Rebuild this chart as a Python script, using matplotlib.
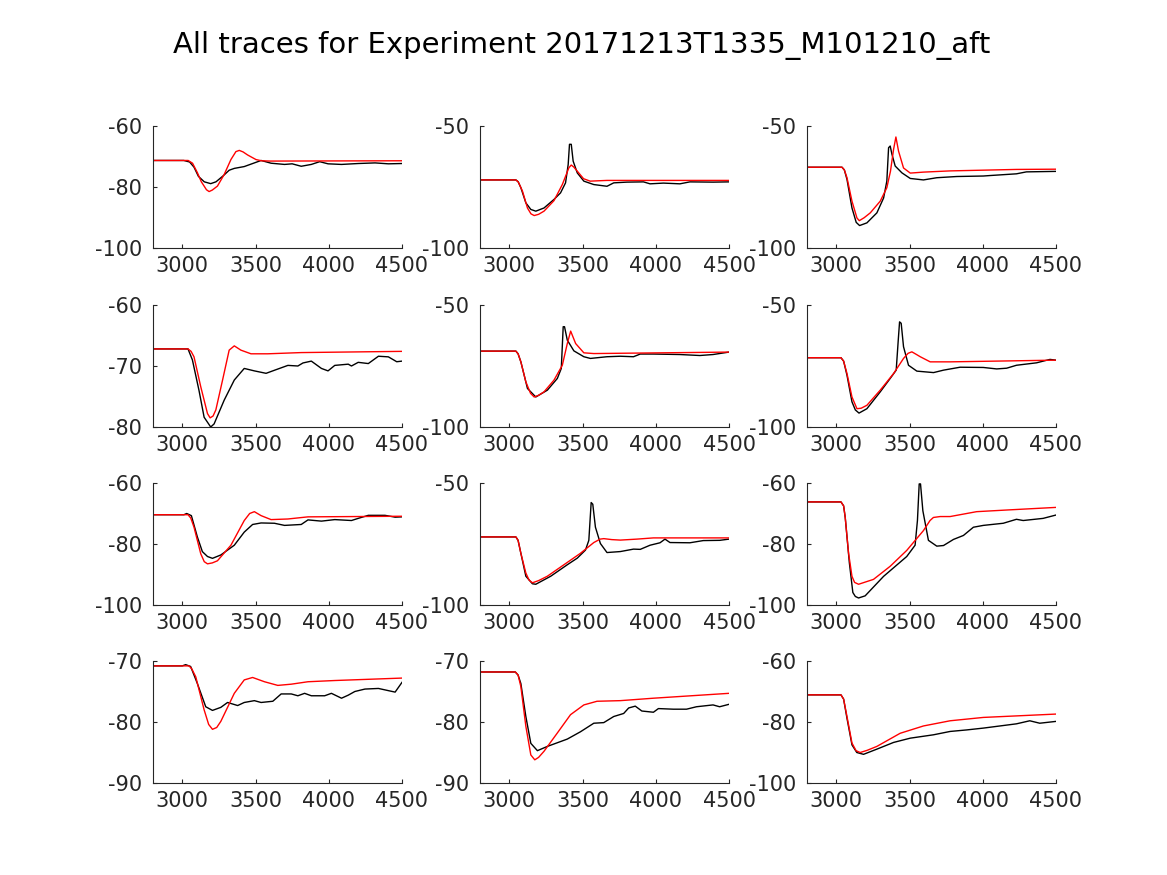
import matplotlib
matplotlib.use("Agg")
import matplotlib.pyplot as plt

title = "All traces for Experiment 20171213T1335_M101210_aft"
x_ticks = [3000, 3500, 4000, 4500]
x_limits = (2800, 4500)

# y-axis ticks per panel (row-major)
y_ticks = [
    [-100, -80, -60], [-100, -50], [-100, -50],
    [-80, -70, -60], [-100, -50], [-100, -50],
    [-100, -80, -60], [-100, -50], [-100, -80, -60],
    [-90, -80, -70], [-90, -80, -70], [-100, -80, -60],
]

# ---- panel 1 ----
exp1_x = [2800, 3010, 3050, 3080, 3110, 3150, 3194, 3230, 3280, 3320, 3355, 3423, 3492, 3538, 3606, 3698, 3750, 3812, 3881, 3938, 3995, 4087, 4201, 4316, 4407, 4500]
exp1_y = [-71.3, -71.3, -71.8, -73.5, -76.5, -78.3, -78.9, -78.3, -76.3, -74.5, -73.9, -73.3, -72.1, -71.3, -72.2, -72.6, -72.4, -73.2, -72.6, -71.7, -72.4, -72.6, -72.3, -72.1, -72.4, -72.3]
mod1_x = [2800, 3040, 3070, 3103, 3130, 3149, 3165, 3183, 3205, 3240, 3286, 3332, 3366, 3389, 3415, 3446, 3503, 3540, 3600, 4500]
mod1_y = [-71.3, -71.3, -72.2, -75.3, -78.3, -79.7, -80.9, -81.5, -81.0, -79.7, -75.9, -71.0, -68.4, -68.0, -68.5, -69.5, -71.0, -71.4, -71.5, -71.4]

# ---- panel 2 ----
exp2_x = [2800, 3045, 3060, 3079, 3113, 3147, 3181, 3237, 3305, 3350, 3384, 3402, 3411, 3423, 3436, 3464, 3509, 3577, 3667, 3713, 3803, 3916, 3961, 4052, 4165, 4233, 4391, 4500]
exp2_y = [-72.1, -72.1, -72.8, -75.3, -81.5, -84.2, -84.9, -83.6, -80.1, -77.4, -73.3, -65.8, -57.5, -57.5, -64.4, -69.2, -72.6, -74.0, -74.7, -73.3, -73.0, -72.9, -73.7, -73.4, -73.7, -72.9, -73.0, -72.9]
mod2_x = [2800, 3045, 3062, 3090, 3124, 3148, 3170, 3200, 3237, 3305, 3362, 3407, 3423, 3440, 3464, 3507, 3552, 3667, 4500]
mod2_y = [-72.1, -72.1, -73.0, -76.7, -83.6, -86.0, -86.7, -86.2, -84.9, -80.6, -74.0, -67.1, -66.0, -66.8, -68.5, -71.6, -72.6, -72.3, -72.3]

# ---- panel 3 ----
exp3_x = [2800, 3039, 3055, 3073, 3107, 3136, 3159, 3209, 3277, 3323, 3345, 3357, 3368, 3380, 3402, 3448, 3505, 3595, 3686, 3823, 4004, 4050, 4230, 4298, 4500]
exp3_y = [-66.9, -66.9, -68.0, -71.9, -83.6, -89.5, -90.8, -89.7, -85.6, -79.5, -72.6, -58.9, -58.2, -61.6, -66.4, -69.2, -71.5, -72.1, -71.2, -70.7, -70.5, -70.3, -69.6, -68.8, -68.6]
mod3_x = [2800, 3039, 3055, 3073, 3107, 3141, 3157, 3190, 3232, 3300, 3345, 3370, 3391, 3407, 3425, 3459, 3505, 3595, 3777, 4004, 4230, 4500]
mod3_y = [-66.9, -66.9, -68.0, -71.2, -80.8, -87.7, -88.8, -87.6, -85.6, -80.8, -75.3, -68.5, -59.6, -54.5, -60.3, -67.2, -69.3, -68.9, -68.4, -68.1, -67.8, -67.7]

# ---- panel 4 ----
exp4_x = [2800, 3039, 3069, 3114, 3149, 3194, 3217, 3286, 3355, 3423, 3492, 3572, 3629, 3721, 3789, 3824, 3881, 3950, 3995, 4041, 4133, 4155, 4201, 4270, 4339, 4407, 4464, 4500]
exp4_y = [-67.2, -67.2, -69.0, -74.0, -78.4, -80.0, -79.5, -75.6, -72.3, -70.4, -70.8, -71.2, -70.7, -69.9, -70.0, -69.5, -69.2, -70.4, -70.8, -69.9, -69.7, -70.0, -69.4, -69.6, -68.4, -68.5, -69.3, -69.2]
mod4_x = [2800, 3039, 3060, 3080, 3126, 3172, 3190, 3210, 3229, 3275, 3320, 3355, 3400, 3469, 3583, 3812, 4500]
mod4_y = [-67.2, -67.2, -67.6, -68.5, -73.4, -77.8, -78.5, -78.2, -77.2, -72.3, -67.4, -66.7, -67.4, -68.0, -68.0, -67.8, -67.6]

# ---- panel 5 ----
exp5_x = [2800, 3045, 3060, 3079, 3124, 3181, 3260, 3328, 3355, 3368, 3377, 3396, 3441, 3509, 3554, 3667, 3758, 3848, 3894, 3984, 4165, 4301, 4391, 4500]
exp5_y = [-68.9, -68.9, -70.0, -73.3, -84.2, -87.7, -84.9, -80.1, -76.0, -58.9, -58.9, -64.4, -68.8, -71.2, -71.9, -71.2, -71.0, -71.2, -70.1, -70.1, -70.3, -70.7, -70.3, -69.3]
mod5_x = [2800, 3045, 3060, 3079, 3113, 3145, 3170, 3200, 3237, 3305, 3362, 3396, 3419, 3453, 3509, 3577, 4500]
mod5_y = [-68.9, -68.9, -70.0, -73.3, -81.5, -86.2, -87.7, -87.0, -85.6, -80.8, -74.7, -65.8, -60.7, -65.8, -69.6, -69.9, -69.3]

# ---- panel 6 ----
exp6_x = [2800, 3032, 3050, 3073, 3107, 3130, 3155, 3209, 3300, 3368, 3409, 3423, 3432, 3443, 3459, 3493, 3550, 3664, 3732, 3845, 4004, 4095, 4163, 4230, 4367, 4459, 4500]
exp6_y = [-71.6, -71.6, -73.0, -78.8, -89.7, -93.0, -94.3, -92.5, -85.6, -80.1, -76.7, -64.4, -56.9, -57.5, -67.1, -74.7, -77.1, -77.7, -76.7, -75.5, -75.6, -76.2, -75.9, -74.7, -73.7, -72.3, -72.6]
mod6_x = [2800, 3032, 3050, 3073, 3107, 3141, 3170, 3209, 3300, 3391, 3459, 3490, 3516, 3545, 3573, 3641, 3777, 4500]
mod6_y = [-71.6, -71.6, -73.0, -78.1, -87.7, -92.5, -92.3, -91.1, -84.9, -78.1, -71.9, -69.8, -69.2, -70.2, -71.2, -73.3, -73.3, -72.6]

# ---- panel 7 ----
exp7_x = [2800, 3011, 3030, 3062, 3103, 3137, 3172, 3206, 3263, 3355, 3423, 3480, 3538, 3629, 3698, 3812, 3858, 3950, 4041, 4155, 4201, 4270, 4384, 4453, 4500]
exp7_y = [-70.4, -70.4, -70.0, -70.7, -77.7, -82.5, -84.1, -84.7, -83.6, -80.4, -76.1, -73.6, -73.1, -73.2, -73.9, -73.6, -72.1, -72.5, -72.0, -72.3, -71.6, -70.6, -70.6, -71.2, -71.1]
mod7_x = [2800, 3039, 3058, 3080, 3126, 3150, 3172, 3205, 3240, 3332, 3423, 3460, 3492, 3538, 3606, 3721, 3858, 4500]
mod7_y = [-70.4, -70.4, -71.5, -74.5, -83.2, -85.8, -86.5, -86.2, -85.5, -80.4, -72.3, -70.0, -69.4, -70.7, -72.0, -71.8, -71.1, -70.9]

# ---- panel 8 ----
exp8_x = [2800, 3045, 3060, 3079, 3113, 3158, 3181, 3283, 3396, 3464, 3520, 3543, 3559, 3570, 3588, 3622, 3667, 3758, 3848, 3894, 3961, 4029, 4063, 4097, 4233, 4324, 4437, 4500]
exp8_y = [-72.1, -72.1, -73.5, -78.8, -88.2, -91.3, -91.5, -88.2, -83.5, -80.8, -77.5, -73.5, -58.0, -58.7, -68.1, -74.8, -78.5, -78.1, -77.1, -77.2, -75.5, -74.5, -73.0, -74.4, -74.5, -73.6, -73.5, -73.0]
mod8_x = [2800, 3045, 3060, 3079, 3113, 3135, 3158, 3200, 3260, 3373, 3486, 3577, 3620, 3645, 3700, 3758, 3871, 3984, 4500]
mod8_y = [-72.1, -72.1, -73.5, -78.8, -86.9, -89.8, -90.9, -90.0, -88.2, -83.5, -78.8, -74.4, -73.0, -72.8, -73.2, -73.4, -73.0, -72.5, -72.5]

# ---- panel 9 ----
exp9_x = [2800, 3032, 3050, 3061, 3089, 3113, 3130, 3152, 3197, 3323, 3481, 3538, 3554, 3566, 3575, 3591, 3629, 3686, 3732, 3800, 3868, 3936, 4004, 4140, 4230, 4276, 4412, 4500]
exp9_y = [-66.2, -66.2, -67.5, -71.3, -86.1, -95.9, -97.2, -97.7, -97.0, -90.6, -84.1, -80.4, -72.3, -60.3, -60.3, -69.1, -78.8, -80.7, -80.5, -78.5, -77.2, -74.5, -73.9, -73.2, -71.9, -72.3, -71.6, -70.5]
mod9_x = [2800, 3032, 3050, 3061, 3084, 3107, 3125, 3152, 3254, 3368, 3481, 3595, 3640, 3663, 3709, 3777, 3958, 4185, 4500]
mod9_y = [-66.2, -66.2, -67.5, -71.3, -83.1, -90.6, -92.6, -93.2, -91.6, -87.3, -82.1, -75.6, -72.3, -71.3, -71.0, -71.0, -69.4, -68.8, -68.0]

# ---- panel 10 ----
exp10_x = [2800, 3000, 3023, 3057, 3103, 3160, 3206, 3263, 3309, 3378, 3423, 3492, 3538, 3618, 3675, 3744, 3789, 3835, 3881, 3972, 4018, 4087, 4133, 4178, 4247, 4339, 4453, 4500]
exp10_y = [-70.8, -70.8, -70.6, -70.9, -73.7, -77.5, -78.1, -77.6, -76.8, -77.3, -76.8, -76.5, -76.8, -76.6, -75.4, -75.4, -75.7, -75.3, -75.7, -75.7, -75.3, -76.1, -75.6, -75.0, -74.6, -74.5, -75.1, -73.5]
mod10_x = [2800, 3046, 3065, 3092, 3149, 3180, 3206, 3235, 3263, 3355, 3423, 3480, 3561, 3652, 3744, 3858, 4041, 4500]
mod10_y = [-70.8, -70.8, -71.3, -72.6, -78.0, -80.4, -81.2, -80.9, -79.9, -75.3, -73.1, -72.7, -73.4, -74.0, -73.8, -73.4, -73.2, -72.8]

# ---- panel 11 ----
exp11_x = [2800, 3041, 3060, 3079, 3113, 3147, 3192, 3260, 3328, 3396, 3486, 3577, 3645, 3713, 3781, 3815, 3860, 3905, 3984, 4018, 4120, 4210, 4278, 4391, 4436, 4500]
exp11_y = [-71.8, -71.8, -72.3, -73.7, -79.1, -83.5, -84.7, -84.0, -83.4, -82.8, -81.6, -80.2, -80.1, -79.1, -78.6, -77.7, -77.4, -78.2, -78.4, -77.8, -77.9, -77.9, -77.5, -77.2, -77.5, -77.1]
mod11_x = [2800, 3041, 3060, 3079, 3113, 3147, 3174, 3200, 3237, 3328, 3418, 3509, 3599, 3758, 3984, 4500]
mod11_y = [-71.8, -71.8, -72.3, -74.2, -80.7, -85.4, -86.2, -85.8, -84.8, -81.8, -78.8, -77.2, -76.6, -76.5, -76.1, -75.3]

# ---- panel 12 ----
exp12_x = [2800, 3032, 3050, 3073, 3107, 3140, 3186, 3277, 3391, 3505, 3663, 3777, 3890, 4004, 4117, 4230, 4321, 4389, 4500]
exp12_y = [-71.1, -71.1, -72.5, -78.8, -87.5, -90.0, -90.6, -88.9, -86.7, -85.3, -84.2, -83.1, -82.6, -82.0, -81.3, -80.6, -79.6, -80.4, -79.8]
mod12_x = [2800, 3032, 3050, 3073, 3107, 3135, 3163, 3210, 3277, 3436, 3595, 3777, 4004, 4230, 4500]
mod12_y = [-71.1, -71.1, -72.5, -78.2, -86.9, -89.4, -90.0, -89.3, -88.0, -83.7, -81.3, -79.6, -78.5, -78.0, -77.4]

experiments = [(exp1_x, exp1_y), (exp2_x, exp2_y), (exp3_x, exp3_y), (exp4_x, exp4_y),
               (exp5_x, exp5_y), (exp6_x, exp6_y), (exp7_x, exp7_y), (exp8_x, exp8_y),
               (exp9_x, exp9_y), (exp10_x, exp10_y), (exp11_x, exp11_y), (exp12_x, exp12_y)]
models = [(mod1_x, mod1_y), (mod2_x, mod2_y), (mod3_x, mod3_y), (mod4_x, mod4_y),
          (mod5_x, mod5_y), (mod6_x, mod6_y), (mod7_x, mod7_y), (mod8_x, mod8_y),
          (mod9_x, mod9_y), (mod10_x, mod10_y), (mod11_x, mod11_y), (mod12_x, mod12_y)]

W, H = 1167, 875
fig = plt.figure(figsize=(W / 100, H / 100), dpi=100)
fig.patch.set_facecolor("white")

col_left = [153, 480, 807]
col_width = 249
row_top = [126, 305, 483, 661]
row_height = 122
axis_color = "#262626"

for i in range(12):
    r, c = divmod(i, 3)
    ax = fig.add_axes([col_left[c] / W, 1 - (row_top[r] + row_height) / H,
                       col_width / W, row_height / H])
    ex, ey = experiments[i]
    mx, my = models[i]
    ax.plot(ex, ey, color="black", lw=1.0)
    ax.plot(mx, my, color="red", lw=1.0)
    ax.set_xlim(*x_limits)
    yt = y_ticks[i]
    ax.set_ylim(yt[0], yt[-1])
    ax.set_xticks(x_ticks)
    ax.set_yticks(yt)
    ax.set_xticklabels([str(v) for v in x_ticks])
    ax.set_yticklabels([str(v) for v in yt])
    for s in ["top", "right"]:
        ax.spines[s].set_visible(False)
    for s in ["left", "bottom"]:
        ax.spines[s].set_color(axis_color)
        ax.spines[s].set_linewidth(0.8)
    ax.tick_params(direction="in", length=3, width=0.8, colors=axis_color,
                   labelsize=15, labelcolor=axis_color)
    ax.tick_params(axis="x", pad=6)
    ax.tick_params(axis="y", pad=8)

fig.text(582 / W, 1 - 45 / H, title, ha="center", va="center", fontsize=21, color="black")

fig.savefig("out.png", dpi=100)
